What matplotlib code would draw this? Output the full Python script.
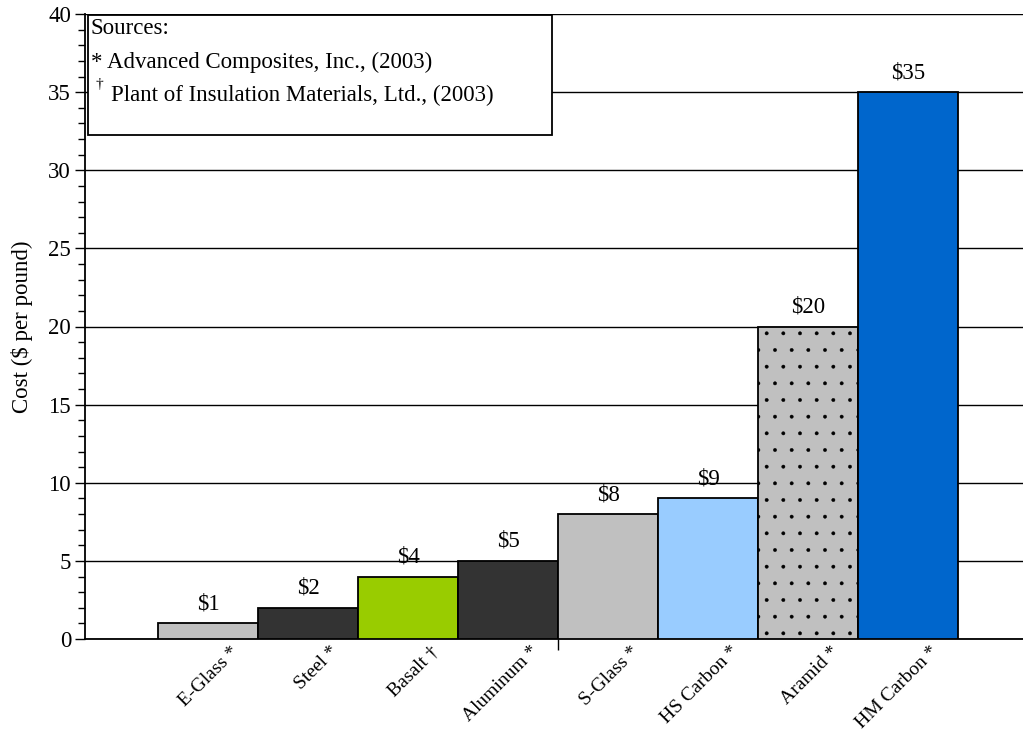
import matplotlib.pyplot as plt
from matplotlib.patches import Rectangle
from matplotlib.ticker import MultipleLocator
import matplotlib.transforms as mtransforms

materials = ['E-Glass *', 'Steel *', 'Basalt \u2020', 'Aluminum *', 'S-Glass *',
             'HS Carbon *', 'Aramid *', 'HM Carbon *']
costs = [1, 2, 4, 5, 8, 9, 20, 35]
value_labels = ['$1', '$2', '$4', '$5', '$8', '$9', '$20', '$35']
bar_colors = ['#C0C0C0', '#333333', '#99CC00', '#333333', '#C0C0C0',
              '#99CCFF', '#C0C0C0', '#0066CC']
bar_hatches = ['', '', '', '', '', '', '.', '']

plt.rcParams['font.family'] = ['Liberation Serif', 'DejaVu Serif']
plt.rcParams['hatch.linewidth'] = 0.3

fig = plt.figure(figsize=(10.23, 7.3), dpi=100)
ax = fig.add_axes([85 / 1023, 1 - 639 / 730, 1 - 85 / 1023, 625 / 730])

x = list(range(len(costs)))
bars = ax.bar(x, costs, width=1.0, color=bar_colors, edgecolor='black', linewidth=1.3, zorder=3)
for b, h in zip(bars, bar_hatches):
    if h:
        b.set_hatch(h)

for xi, c, lab in zip(x, costs, value_labels):
    ax.annotate(lab, (xi, c), xytext=(0, 10), textcoords='offset points',
                ha='center', va='baseline', fontsize=16.5)

ax.set_xlim(-1.23, 8.15)
ax.set_ylim(0, 40)
ax.yaxis.set_major_locator(MultipleLocator(5))
ax.yaxis.set_minor_locator(MultipleLocator(1))
ax.grid(axis='y', which='major', color='black', linewidth=1, zorder=0)
ax.tick_params(axis='y', which='major', length=7, width=1, labelsize=16.5, pad=3)
ax.tick_params(axis='y', which='minor', length=5, width=1)

for s in ['top', 'right']:
    ax.spines[s].set_visible(False)
ax.spines['left'].set_linewidth(1.3)
ax.spines['bottom'].set_linewidth(1.3)

ax.set_xticks([3.5])
ax.set_xticklabels([''])
ax.tick_params(axis='x', length=8, width=1)

offset = mtransforms.ScaledTranslation(0.22, -0.04, fig.dpi_scale_trans)
for xi, name in zip(x, materials):
    ax.text(xi, 0, name, rotation=45, ha='right', va='top', rotation_mode='anchor',
            fontsize=14, transform=ax.get_xaxis_transform() + offset)

ax.set_ylabel('Cost ($ per pound)', fontsize=16.5, labelpad=11)

# sources box
box = Rectangle((88 / 1023, 1 - 135 / 730), (552 - 88) / 1023, (135 - 15) / 730,
                transform=fig.transFigure, facecolor='white', edgecolor='black',
                linewidth=1.3, zorder=5)
fig.patches.append(box)
fig.text(91 / 1023, 1 - 34 / 730, 'Sources:', fontsize=16.5, zorder=6)
fig.text(91 / 1023, 1 - 68 / 730, '* Advanced Composites, Inc., (2003)', fontsize=16.5, zorder=6)
fig.text(95 / 1023, 1 - 88 / 730, '\u2020', fontsize=11, zorder=6)
fig.text(111 / 1023, 1 - 101 / 730, 'Plant of Insulation Materials, Ltd., (2003)', fontsize=16.5, zorder=6)

fig.savefig('out.png', dpi=100)
